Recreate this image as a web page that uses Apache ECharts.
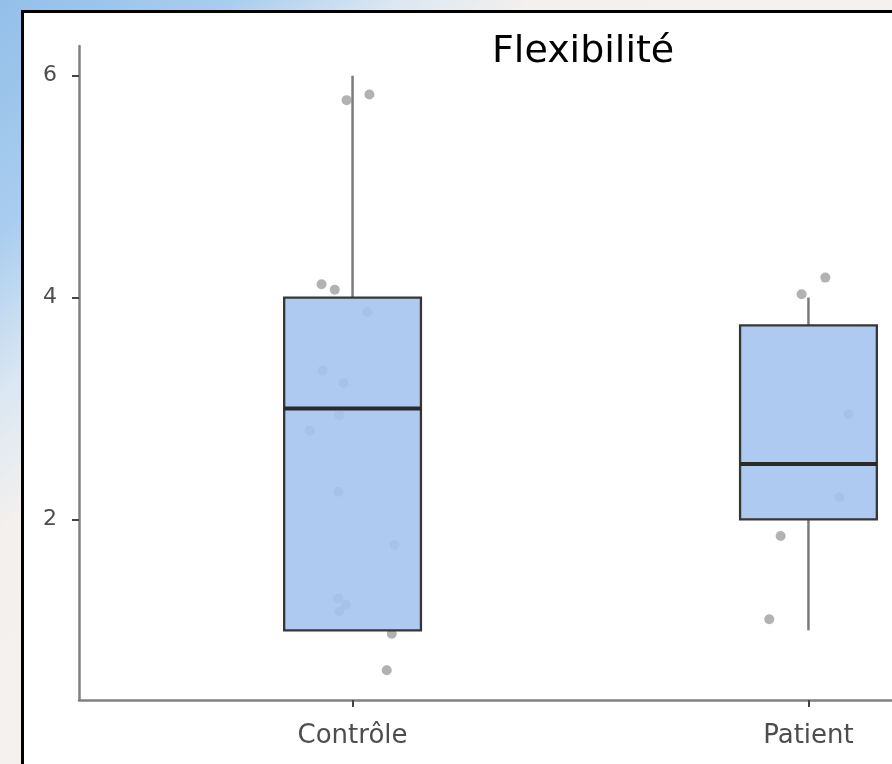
<!DOCTYPE html>
<html>
<head>
<meta charset="utf-8">
<script src="https://cdn.jsdelivr.net/npm/echarts@6/dist/echarts.min.js"></script>
<style>
  html, body {
    margin: 0;
    padding: 0;
    width: 892px;
    height: 764px;
    overflow: hidden;
    background: linear-gradient(135deg, #93bfe9 0%, #a9cdef 14%, #dbe7f2 24%, #f3f0ee 32%, #f7f3f0 100%);
  }
  .panel {
    position: absolute;
    left: 21px;
    top: 10px;
    width: 1000px;
    height: 1000px;
    border: 3px solid #000;
    background: #fff;
  }
  #chart {
    position: absolute;
    left: 0;
    top: 0;
    width: 1100px;
    height: 764px;
  }
</style>
</head>
<body>
<div class="panel"></div>
<div id="chart"></div>
<script>
// groups and their positions on the x scale
const categories = ['Contrôle', 'Patient']
const groupPos = [1, 2]

// box statistics per group
const boxMin = [1, 1]
const boxQ1 = [1, 2]
const boxMedian = [3, 2.5]
const boxQ3 = [4, 3.75]
const boxMax = [6, 4]

// jittered points (x position, value)
const controleX = [0.987, 1.037, 0.932, 0.961, 1.033, 0.934, 0.980, 0.971, 0.906, 0.969, 1.092, 0.969, 0.985, 0.971, 1.086, 1.075]
const controleY = [5.78, 5.83, 4.12, 4.07, 3.87, 3.34, 3.23, 2.94, 2.80, 2.25, 1.77, 1.29, 1.23, 1.17, 0.97, 0.64]
const patientX = [2.037, 1.985, 2.088, 2.068, 1.939, 1.914]
const patientY = [4.18, 4.03, 2.95, 2.20, 1.85, 1.10]

// axis ticks
const yTicks = [2, 4, 6]

const boxData = groupPos.map((x, i) => [x, boxMin[i], boxQ1[i], boxMedian[i], boxQ3[i], boxMax[i]])
const pointData = controleX.map((x, i) => [x, controleY[i]])
  .concat(patientX.map((x, i) => [x, patientY[i]]))

const boxWidth = 0.3

function renderBox(params, api) {
  const x = api.value(0)
  const lo = api.coord([x, api.value(1)])
  const q1 = api.coord([x, api.value(2)])
  const med = api.coord([x, api.value(3)])
  const q3 = api.coord([x, api.value(4)])
  const hi = api.coord([x, api.value(5)])
  const half = api.size([boxWidth, 0])[0] / 2
  const cx = lo[0]
  const whisker = { stroke: '#7b7b7b', lineWidth: 2.5 }
  return {
    type: 'group',
    children: [
      { type: 'line', shape: { x1: cx, y1: q3[1], x2: cx, y2: hi[1] }, style: whisker },
      { type: 'line', shape: { x1: cx, y1: lo[1], x2: cx, y2: q1[1] }, style: whisker },
      {
        type: 'rect',
        shape: { x: cx - half, y: q3[1], width: half * 2, height: q1[1] - q3[1] },
        style: { fill: 'rgba(166,196,238,0.9)', stroke: '#363636', lineWidth: 2.3 }
      },
      {
        type: 'line',
        shape: { x1: cx - half, y1: med[1], x2: cx + half, y2: med[1] },
        style: { stroke: '#2a2a2a', lineWidth: 4 }
      }
    ]
  }
}

const option = {
  backgroundColor: 'transparent',
  animation: false,
  title: {
    text: 'Flexibilité',
    left: 487,
    top: 28,
    textStyle: {
      fontFamily: 'DejaVu Sans',
      fontSize: 38,
      fontWeight: 'normal',
      color: '#000'
    }
  },
  grid: {
    left: 79,
    top: 46,
    bottom: 64,
    width: 1003
  },
  xAxis: {
    type: 'value',
    min: 0.4,
    max: 2.6,
    splitLine: { show: false },
    axisLine: { lineStyle: { color: '#808080', width: 2.5 } },
    axisTick: {
      customValues: groupPos,
      length: 7,
      lineStyle: { color: '#444', width: 2 }
    },
    axisLabel: {
      customValues: groupPos,
      formatter: v => categories[groupPos.indexOf(v)],
      margin: 23,
      fontFamily: 'DejaVu Sans',
      fontSize: 26,
      color: '#4d4d4d'
    }
  },
  yAxis: {
    type: 'value',
    min: 0.372,
    max: 6.268,
    splitLine: { show: false },
    axisLine: { show: true, lineStyle: { color: '#808080', width: 2.5 } },
    axisTick: {
      show: true,
      customValues: yTicks,
      length: 7,
      lineStyle: { color: '#444', width: 2 }
    },
    axisLabel: {
      customValues: yTicks,
      margin: 22,
      fontFamily: 'DejaVu Sans',
      fontSize: 22,
      color: '#4d4d4d'
    }
  },
  series: [
    {
      name: 'points',
      type: 'scatter',
      z: 2,
      symbolSize: 10,
      itemStyle: { color: 'rgba(100,100,100,0.62)' },
      data: pointData
    },
    {
      name: 'boxes',
      type: 'custom',
      z: 3,
      renderItem: renderBox,
      encode: { x: 0, y: [1, 2, 3, 4, 5] },
      data: boxData
    }
  ]
}

const chart = echarts.init(document.getElementById('chart'))
chart.setOption(option)
</script>
</body>
</html>
